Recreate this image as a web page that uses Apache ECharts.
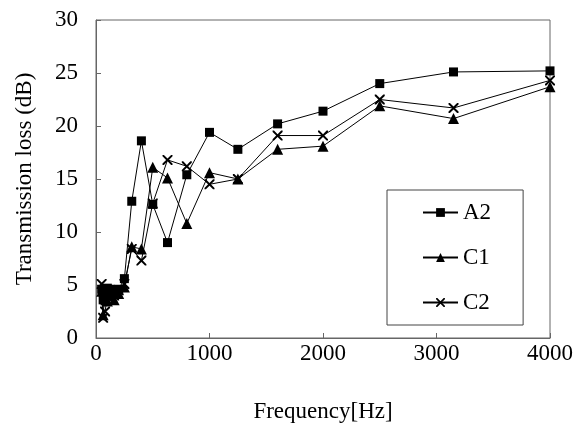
<!DOCTYPE html>
<html><head><meta charset="utf-8">
<script src="https://cdn.jsdelivr.net/npm/echarts@6/dist/echarts.min.js"></script>
<style>html,body{margin:0;padding:0;background:#fff}#c{width:576px;height:423px}</style>
</head><body><div id="c"></div>
<script>
const freqs = [50, 63, 80, 100, 125, 160, 200, 250, 315, 400, 500, 630, 800, 1000, 1250, 1600, 2000, 2500, 3150, 4000];
const a2 = [4.6, 3.6, 3.5, 4.7, 4.6, 4.4, 4.6, 5.6, 12.9, 18.6, 12.6, 9.0, 15.4, 19.4, 17.8, 20.2, 21.4, 24.0, 25.1, 25.2];
const c1 = [4.4, 2.2, 4.4, 3.5, 4.1, 3.6, 4.2, 4.8, 8.6, 8.4, 16.1, 15.1, 10.8, 15.6, 15.0, 17.8, 18.1, 21.9, 20.7, 23.7];
const c2 = [5.1, 1.9, 2.5, 3.9, 4.5, 4.0, 4.5, 5.1, 8.4, 7.3, 12.7, 16.8, 16.2, 14.5, 15.0, 19.1, 19.1, 22.5, 21.7, 24.3];
const xTicks = [0, 1000, 2000, 3000, 4000];
const yTicks = [0, 5, 10, 15, 20, 25, 30];
const seriesNames = ['A2', 'C1', 'C2'];

const font = '"Liberation Serif", "Times New Roman", serif';
const fs = 23;
const crossPath = 'path://M0,0L1.4,0L5,3.6L8.6,0L10,0L10,1.4L6.4,5L10,8.6L10,10L8.6,10L5,6.4L1.4,10L0,10L0,8.6L3.6,5L0,1.4Z';
const pairs = v => freqs.map((f, i) => [f, v[i]]);
const mk = (name, vals, symbol, size) => ({
  name, type: 'line', data: pairs(vals), symbol, symbolSize: size,
  lineStyle: { color: '#000', width: 1 },
  itemStyle: { color: '#000' },
  emphasis: { disabled: true }, animation: false
});

const chart = echarts.init(document.getElementById('c'));
chart.setOption({
  backgroundColor: '#fff',
  animation: false,
  grid: { left: 96, right: 26, top: 20, bottom: 85, outerBoundsMode: 'none', containLabel: false, show: true, borderColor: '#666', borderWidth: 1, backgroundColor: 'transparent' },
  legend: {
    orient: 'vertical', left: 387, top: 190,
    data: seriesNames,
    itemWidth: 35, itemHeight: 11, itemGap: 22,
    padding: [11, 32, 11, 35],
    borderColor: '#444', borderWidth: 1,
    textStyle: { fontFamily: font, fontSize: fs, color: '#000', lineHeight: 23 },
    selectedMode: false
  },
  xAxis: {
    type: 'value', min: xTicks[0], max: xTicks[xTicks.length - 1], interval: 1000,
    name: 'Frequency[Hz]', nameLocation: 'middle', nameGap: 62,
    nameTextStyle: { fontFamily: font, fontSize: fs, color: '#000' },
    axisLine: { show: true, lineStyle: { color: '#666' } },
    axisTick: { show: true, inside: true, length: 5, lineStyle: { color: '#666' } },
    axisLabel: { fontFamily: font, fontSize: fs, color: '#000', margin: 4, formatter: v => String(v) },
    splitLine: { show: false }
  },
  yAxis: {
    type: 'value', min: yTicks[0], max: yTicks[yTicks.length - 1], interval: 5,
    name: 'Transmission loss (dB)', nameLocation: 'middle', nameGap: 60,
    nameTextStyle: { fontFamily: font, fontSize: fs, color: '#000' },
    axisLine: { show: true, lineStyle: { color: '#666' } },
    axisTick: { show: true, inside: true, length: 5, lineStyle: { color: '#666' } },
    axisLabel: { fontFamily: font, fontSize: fs, color: '#000', margin: 18, formatter: v => String(v) },
    splitLine: { show: false }
  },
  series: [
    mk('A2', a2, 'rect', 9),
    mk('C1', c1, 'triangle', 11),
    mk('C2', c2, crossPath, 10)
  ]
});
</script></body></html>
